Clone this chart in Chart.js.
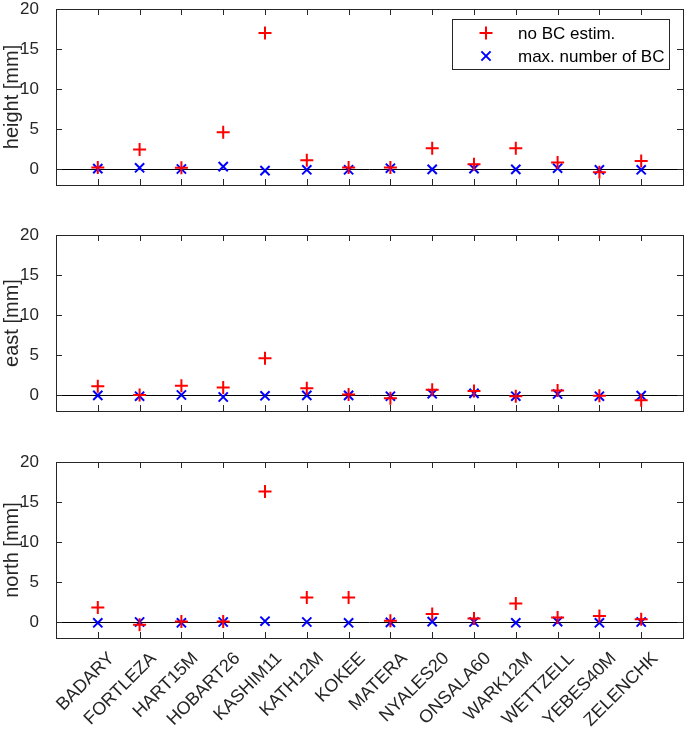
<!DOCTYPE html>
<html>
<head>
<meta charset="utf-8">
<script src="https://cdn.jsdelivr.net/npm/chart.js@4"></script>
<style>
  body { margin: 0; background: #fff; width: 685px; height: 735px; position: relative; overflow: hidden; }
  canvas { position: absolute; left: 0; }
</style>
</head>
<body>
<canvas id="chartHeight" width="685" height="206" style="top:-6px"></canvas>
<canvas id="chartEast" width="685" height="206" style="top:220px"></canvas>
<canvas id="chartNorth" width="685" height="288" style="top:447px"></canvas>
<script>
// station names along the x axis
const stations = ['BADARY', 'FORTLEZA', 'HART15M', 'HOBART26', 'KASHIM11', 'KATH12M', 'KOKEE',
    'MATERA', 'NYALES20', 'ONSALA60', 'WARK12M', 'WETTZELL', 'YEBES40M', 'ZELENCHK'];
const yTicks = [0, 5, 10, 15, 20];

// height [mm]
const heightNoBC  = [0.2, 2.45, 0.15, 4.6, 17.0, 1.1, 0.2, 0.2, 2.6, 0.6, 2.6, 0.8, -0.4, 1.0];
const heightMaxBC = [0.05, 0.15, 0.0, 0.3, -0.2, -0.1, -0.1, 0.1, -0.05, 0.05, -0.05, 0.1, -0.1, -0.1];
// east [mm]
const eastNoBC  = [1.1, 0.0, 1.15, 0.95, 4.6, 0.85, 0.05, -0.4, 0.65, 0.5, -0.15, 0.55, -0.1, -0.65];
const eastMaxBC = [-0.05, -0.15, 0.0, -0.25, -0.1, -0.05, -0.05, -0.15, 0.15, 0.2, -0.15, 0.12, -0.15, -0.08];
// north [mm]
const northNoBC  = [1.8, -0.35, 0.05, 0.05, 16.3, 3.05, 3.05, 0.15, 1.0, 0.45, 2.3, 0.55, 0.75, 0.35];
const northMaxBC = [-0.1, 0.0, -0.1, 0.0, 0.1, 0.0, -0.1, -0.05, 0.05, 0.0, -0.1, 0.05, -0.1, 0.0];

const seriesLabels = ['no BC estim.', 'max. number of BC'];
const RED = '#ff0000';
const BLUE = '#0000ff';
const AXIS = '#262626';
const FONT = "'Liberation Sans', Arial, sans-serif";

Chart.defaults.font.family = FONT;
Chart.defaults.color = AXIS;

// box, inward ticks and zero line like the original figure
const matlabAxes = {
    id: 'matlabAxes',
    beforeDatasetsDraw(chart) {
        const { ctx, chartArea: a, scales: { x, y } } = chart;
        const tl = 6;
        ctx.save();
        ctx.lineWidth = 1;
        ctx.strokeStyle = '#000';
        const y0 = Math.round(y.getPixelForValue(0)) + 0.5;
        ctx.beginPath();
        ctx.moveTo(a.left, y0);
        ctx.lineTo(a.right, y0);
        ctx.stroke();

        ctx.strokeStyle = AXIS;
        ctx.beginPath();
        stations.forEach((s, i) => {
            const px = Math.round(x.getPixelForValue(i)) + 0.5;
            ctx.moveTo(px, a.top); ctx.lineTo(px, a.top + tl);
            ctx.moveTo(px, a.bottom); ctx.lineTo(px, a.bottom - tl);
        });
        yTicks.forEach(v => {
            const py = Math.round(y.getPixelForValue(v)) + 0.5;
            ctx.moveTo(a.left, py); ctx.lineTo(a.left + tl, py);
            ctx.moveTo(a.right, py); ctx.lineTo(a.right - tl, py);
        });
        ctx.stroke();
        ctx.strokeRect(Math.round(a.left) + 0.5, Math.round(a.top) + 0.5,
            Math.round(a.right - a.left), Math.round(a.bottom - a.top));
        ctx.restore();
    }
};

// legend box in the upper right corner of the top panel
const boxLegend = {
    id: 'boxLegend',
    afterDatasetsDraw(chart, args, opts) {
        if (!opts.show) return;
        const { ctx, chartArea: a } = chart;
        const w = 217, h = 50;
        const left = a.right - 14 - w, top = a.top + 10;
        ctx.save();
        ctx.fillStyle = '#fff';
        ctx.fillRect(left, top, w, h);
        ctx.strokeStyle = AXIS;
        ctx.lineWidth = 1;
        ctx.strokeRect(Math.round(left) + 0.5, Math.round(top) + 0.5, w, h);
        chart.data.datasets.forEach((ds, i) => {
            const cy = top + 14 + i * 23;
            ctx.strokeStyle = ds.borderColor;
            ctx.lineWidth = ds.borderWidth;
            Chart.helpers.drawPoint(ctx, { pointStyle: ds.pointStyle, radius: ds.pointRadius, rotation: 0, borderWidth: ds.borderWidth }, left + 34, cy);
            ctx.fillStyle = '#000';
            ctx.font = '17px ' + FONT;
            ctx.textBaseline = 'middle';
            ctx.fillText(ds.label, left + 66, cy + 1);
        });
        ctx.restore();
    }
};

function makePanel(id, title, noBC, maxBC, opts) {
    const ctx = document.getElementById(id).getContext('2d');
    return new Chart(ctx, {
        type: 'scatter',
        data: {
            datasets: [
                {
                    label: seriesLabels[0],
                    data: noBC.map((v, i) => ({ x: i, y: v })),
                    pointStyle: 'cross',
                    pointRadius: 6.5,
                    borderColor: RED,
                    backgroundColor: RED,
                    borderWidth: 2
                },
                {
                    label: seriesLabels[1],
                    data: maxBC.map((v, i) => ({ x: i, y: v })),
                    pointStyle: 'crossRot',
                    pointRadius: 6.5,
                    borderColor: BLUE,
                    backgroundColor: BLUE,
                    borderWidth: 2
                }
            ]
        },
        options: {
            responsive: false,
            animation: false,
            layout: { padding: opts.padding, autoPadding: false },
            plugins: {
                legend: { display: false },
                tooltip: { enabled: false },
                boxLegend: { show: !!opts.legend }
            },
            scales: {
                x: {
                    type: 'linear',
                    min: -1,
                    max: 14,
                    display: !!opts.xLabels,
                    grid: { display: false },
                    border: { display: false },
                    afterBuildTicks: s => { s.ticks = stations.map((n, i) => ({ value: i })); },
                    afterFit: s => {
                        if (opts.xLabels) s.height = 97;
                        s.paddingLeft = 0;
                        s.paddingRight = 0;
                    },
                    ticks: {
                        autoSkip: false,
                        minRotation: 45,
                        maxRotation: 45,
                        padding: 2,
                        labelOffset: 14,
                        color: AXIS,
                        font: { size: 18 },
                        callback: v => stations[v]
                    }
                },
                y: {
                    min: -2,
                    max: 20,
                    grid: { display: false },
                    border: { display: false },
                    afterBuildTicks: s => { s.ticks = yTicks.map(v => ({ value: v })); },
                    afterFit: s => {
                        s.width = 56;
                        s.paddingTop = 0;
                        s.paddingBottom = 0;
                    },
                    ticks: { padding: 9, color: AXIS, font: { size: 17 } },
                    title: {
                        display: true,
                        text: title,
                        color: AXIS,
                        font: { size: 20 },
                        padding: { top: 0, bottom: 0 }
                    }
                }
            }
        },
        plugins: [matlabAxes, boxLegend]
    });
}

makePanel('chartHeight', 'height [mm]', heightNoBC, heightMaxBC,
    { padding: { top: 15, bottom: 15, left: 0, right: 2 }, legend: true });
makePanel('chartEast', 'east [mm]', eastNoBC, eastMaxBC,
    { padding: { top: 15, bottom: 15, left: 0, right: 2 } });
makePanel('chartNorth', 'north [mm]', northNoBC, northMaxBC,
    { padding: { top: 15, bottom: 0, left: 0, right: 2 }, xLabels: true });
</script>
</body>
</html>
